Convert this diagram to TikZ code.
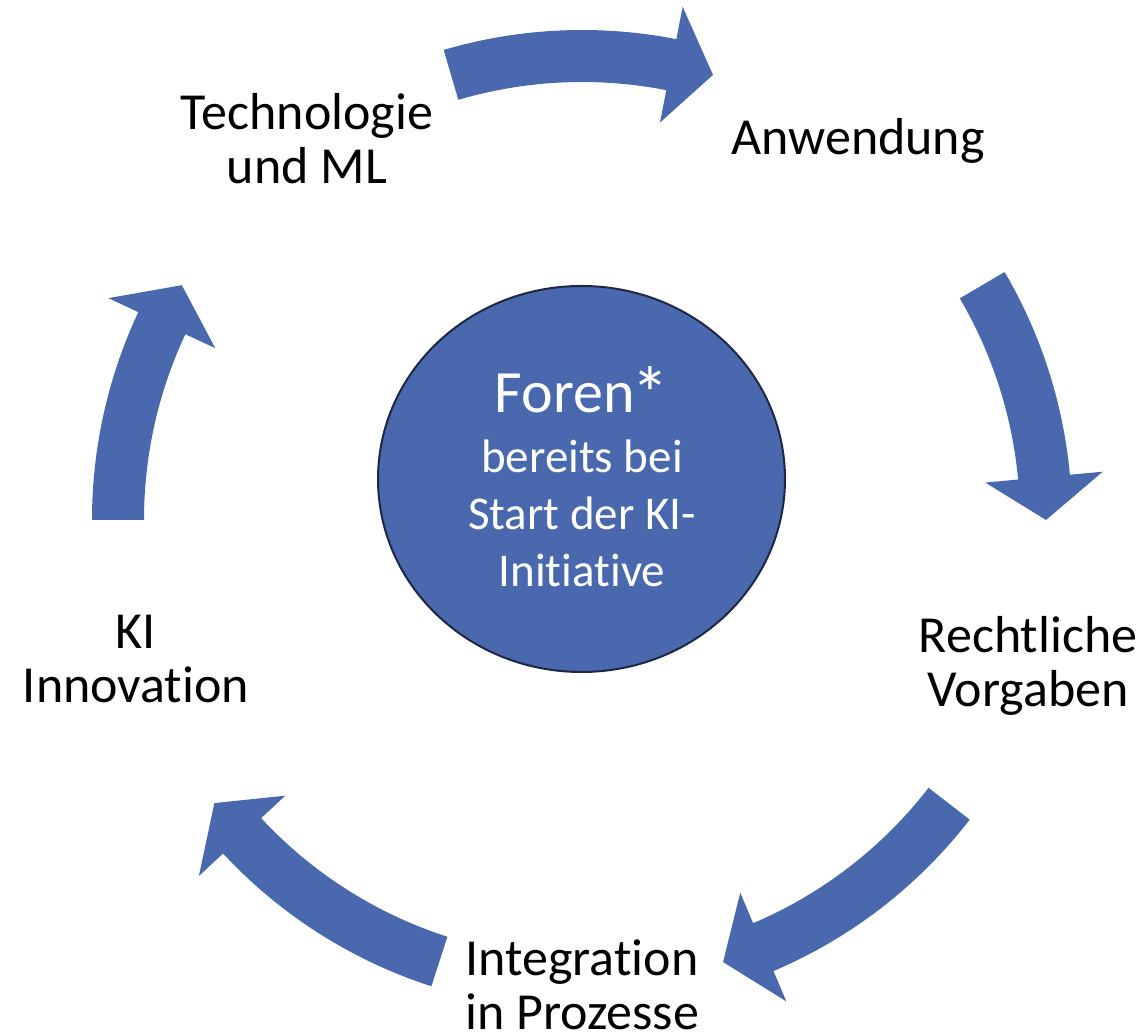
\documentclass[tikz,border=0pt]{standalone}
\usepackage{fontspec}
\setmainfont{Carlito}[Ligatures=NoCommon]
\usetikzlibrary{shapes.geometric}
\definecolor{cycblue}{RGB}{73,104,173}
\definecolor{hubline}{RGB}{30,40,70}
% curved cycle arrow around (C): #1 = tail angle, #2 = tip angle (clockwise)
\newcommand\cycarrow[2]{%
  \fill[arrowband] ([shift={(#1:490)}]C) arc[start angle=#1, end angle={#2+5.3}, radius=490]
    -- ([shift={({#2+5.3}:523)}]C) -- ([shift={(#2:464)}]C) -- ([shift={({#2+5.3}:405)}]C)
    -- ([shift={({#2+5.3}:438)}]C) arc[start angle={#2+5.3}, end angle=#1, radius=438] -- cycle;}
\newcommand\twolines[2]{\begin{tabular}[t]{@{}c@{}}#1\\#2\end{tabular}}
\begin{document}
\begin{tikzpicture}[x=0.5pt,y=0.5pt,
  arrowband/.style={fill=cycblue,draw=none},
  steplabel/.style={inner sep=0pt,anchor=base,text=black,font=\fontsize{26}{27}\selectfont},
  hubtext/.style={inner sep=0pt,anchor=base,text=white,font=\fontsize{23.5}{28}\selectfont},
  hubtitle/.style={inner sep=0pt,anchor=base,text=white,font=\fontsize{30}{30}\selectfont}]
\useasboundingbox (0,0) rectangle (1145,1036);
\coordinate (C) at (582,516);

% arrows
\cycarrow{106.4}{73.6}
\cycarrow{30.4}{0}
\cycarrow{-37.7}{-72.3}
\cycarrow{-107.9}{-142.4}
\cycarrow{180}{149.6}

% central circle
\node[ellipse, draw=hubline, line width=1pt, fill=cycblue, inner sep=0pt,
      minimum width=203.5pt, minimum height=193pt] (hub) at (581.5,557) {};
\node[hubtitle] (hubA) at (582,623) {Foren\kern-1.5pt\raisebox{-4pt}{\fontsize{38}{38}\selectfont*}};
\node[hubtext] (hubB) at (582,563) {bereits bei};
\node[hubtext] (hubC) at (582,506) {Start der KI-};
\node[hubtext] (hubD) at (582,449) {Initiative};

% labels
\node[steplabel] (tech) at (307,906) {\twolines{Technologie}{und ML}};
\node[steplabel] (anw) at (858,881) {Anwendung};
\node[steplabel] (recht) at (1028,383) {\twolines{Rechtliche}{Vorgaben}};
\node[steplabel] (integ) at (582,60) {\twolines{Integration}{in Prozesse}};
\node[steplabel] (kiinno) at (136,387) {\twolines{KI}{Innovation}};
\end{tikzpicture}
\end{document}
